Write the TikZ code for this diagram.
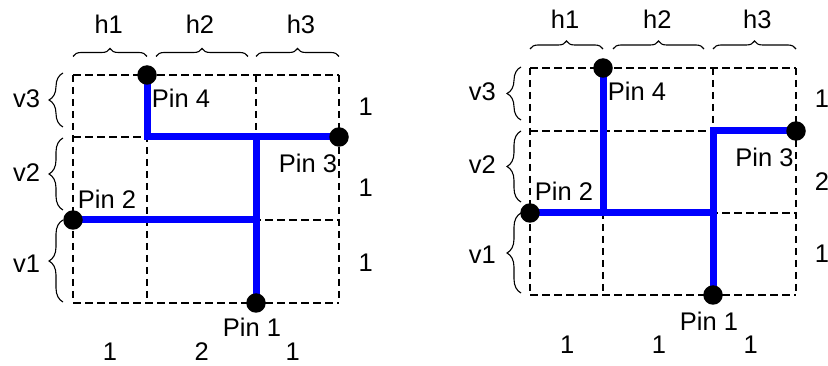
\documentclass[tikz,border=0pt]{standalone}
\usepackage{fontspec}
\setmainfont{Liberation Sans}
\usetikzlibrary{decorations.pathreplacing}
\begin{document}
\begin{tikzpicture}[x=1pt,y=-1pt,
  cellline/.style={line width=2.2pt, dash pattern=on 7.5pt off 4.5pt},
  wire/.style={draw=blue, line width=7pt},
  pindot/.style={circle, fill=black, inner sep=0pt, minimum size=19.5pt},
  lbl/.style={font=\fontsize{25.5}{30}\selectfont, inner sep=0pt, anchor=center},
  hbrace/.style={decorate, decoration={brace, amplitude=8pt}, line width=1.1pt},
  vbrace/.style={decorate, decoration={brace, amplitude=14pt}, line width=1.1pt}]
\useasboundingbox (0,0) rectangle (828,366);
\fill[white] (0,0) rectangle (828,366);

% ================= LEFT DIAGRAM =================
\foreach \x in {73,147,256,339} \draw[cellline] (\x,75) -- (\x,303);
\foreach \y in {75,137,220,303} \draw[cellline] (73,\y) -- (339,\y);

\coordinate (L1) at (256,303);
\coordinate (L2) at (73,220);
\coordinate (L3) at (339,137);
\coordinate (L4) at (147,75);
\coordinate (LJa) at (256,137);
\coordinate (LJb) at (256,220);

\draw[wire, line join=miter] (L4) |- (L3);
\draw[wire] (LJa) -- (L1);
\draw[wire] (L2) -- (LJb);

\node[pindot] (l1) at (L1) {};
\node[pindot] (l2) at (L2) {};
\node[pindot] (l3) at (L3) {};
\node[pindot] (l4) at (L4) {};

\node[lbl] (lp4) at (181,98.5) {Pin 4};
\node[lbl] (lp3) at (308,163.5) {Pin 3};
\node[lbl] (lp2) at (107,199) {Pin 2};
\node[lbl] (lp1) at (252,327.5) {Pin 1};

\draw[hbrace] (73,56.5) -- (147,56.5);
\draw[hbrace] (156,56.5) -- (248,56.5);
\draw[hbrace] (256,56.5) -- (339,56.5);
\node[lbl] (lh1) at (108.7,24.7) {h1};
\node[lbl] (lh2) at (200,24.7) {h2};
\node[lbl] (lh3) at (301,24.7) {h3};

\draw[vbrace] (63,127) -- (63,73);
\draw[vbrace] (63,210) -- (63,138);
\draw[vbrace] (63,302) -- (63,220);
\node[lbl] (lv3) at (26.7,99) {v3};
\node[lbl] (lv2) at (26.7,172.5) {v2};
\node[lbl] (lv1) at (26.7,263.5) {v1};

\node[lbl] (lr3) at (365.7,106.5) {1};
\node[lbl] (lr2) at (365.7,188) {1};
\node[lbl] (lr1) at (365.7,262.5) {1};

\node[lbl] (lb1) at (110,352) {1};
\node[lbl] (lb2) at (201.7,352) {2};
\node[lbl] (lb3) at (292.7,352) {1};

% ================= RIGHT DIAGRAM =================
\foreach \x in {530,603,713,796} \draw[cellline] (\x,68) -- (\x,295);
\foreach \y in {68,131,213,295} \draw[cellline] (530,\y) -- (796,\y);

\coordinate (R1) at (713,295);
\coordinate (R2) at (530,213);
\coordinate (R3) at (796,131);
\coordinate (R4) at (603,68);
\coordinate (RJa) at (603,213);
\coordinate (RJb) at (713,213);

\draw[wire, line join=miter] (R1) |- (R3);
\draw[wire] (R4) -- (RJa);
\draw[wire] (R2) -- (RJb);

\node[pindot] (r1) at (R1) {};
\node[pindot] (r2) at (R2) {};
\node[pindot] (r3) at (R3) {};
\node[pindot] (r4) at (R4) {};

\node[lbl] (rp4) at (637,91.5) {Pin 4};
\node[lbl] (rp3) at (764.5,157) {Pin 3};
\node[lbl] (rp2) at (564,191.5) {Pin 2};
\node[lbl] (rp1) at (709,321) {Pin 1};

\draw[hbrace] (530,49) -- (603,49);
\draw[hbrace] (613,49) -- (704,49);
\draw[hbrace] (713,49) -- (796,49);
\node[lbl] (rh1) at (565,19) {h1};
\node[lbl] (rh2) at (657.3,19) {h2};
\node[lbl] (rh3) at (757.3,19) {h3};

\draw[vbrace] (521,120) -- (521,67);
\draw[vbrace] (521,202) -- (521,131);
\draw[vbrace] (521,293) -- (521,213);
\node[lbl] (rv3) at (482.3,91.7) {v3};
\node[lbl] (rv2) at (482.3,165) {v2};
\node[lbl] (rv1) at (482.3,255) {v1};

\node[lbl] (rr3) at (822,98.5) {1};
\node[lbl] (rr2) at (822,181.7) {2};
\node[lbl] (rr1) at (822,254) {1};

\node[lbl] (rb1) at (567.3,345) {1};
\node[lbl] (rb2) at (659,345) {1};
\node[lbl] (rb3) at (750.7,345) {1};
\end{tikzpicture}
\end{document}
